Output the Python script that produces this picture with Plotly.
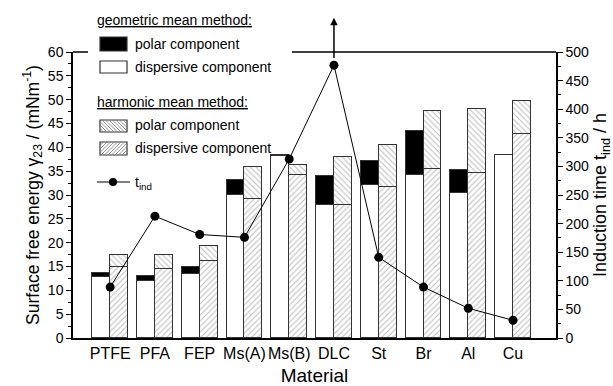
import plotly.graph_objects as go

materials = ["PTFE", "PFA", "FEP", "Ms(A)", "Ms(B)", "DLC", "St", "Br", "Al", "Cu"]
geo_disp = [12.9, 12.0, 13.5, 30.1, 38.1, 27.9, 32.2, 34.2, 30.5, 38.3]
geo_polar = [0.7, 1.1, 1.4, 3.0, 0.2, 6.1, 4.9, 9.2, 4.7, 0.15]
harm_disp = [15.0, 14.4, 16.1, 29.2, 34.2, 27.9, 31.7, 35.4, 34.6, 42.8]
harm_polar = [2.5, 3.1, 3.3, 6.7, 2.1, 10.0, 8.8, 12.2, 13.5, 6.9]
t_ind = [89, 213, 181, 176, 313, 477, 141, 89, 52, 31]

FONT = "Liberation Sans, Arial, sans-serif"
W, H = 613, 386
L, R, T, B = 73, 57, 52, 48
PW, PH = W - L - R, H - T - B

def px(x):
    return (x - L) / PW

def py(y):
    return (H - B - y) / PH

idx = list(range(len(materials)))
xg = [i - 0.2 for i in idx]
xh = [i + 0.2 for i in idx]
outline = dict(color="#333333", width=1.2)

fig = go.Figure()
fig.add_trace(go.Bar(x=xg, y=geo_disp, width=0.4, marker=dict(color="white", line=outline), showlegend=False))
fig.add_trace(go.Bar(x=xg, y=geo_polar, width=0.4, marker=dict(color="black", line=outline), showlegend=False))
fig.add_trace(go.Bar(x=xh, y=harm_disp, width=0.4,
                     marker=dict(color="white", line=outline,
                                 pattern=dict(shape="/", fgcolor="#777777", bgcolor="white", size=4, solidity=0.25)),
                     showlegend=False))
fig.add_trace(go.Bar(x=xh, y=harm_polar, width=0.4,
                     marker=dict(color="white", line=outline,
                                 pattern=dict(shape="\\", fgcolor="#777777", bgcolor="white", size=4, solidity=0.25)),
                     showlegend=False))
fig.add_trace(go.Scatter(x=idx, y=t_ind, yaxis="y2", mode="lines+markers",
                         line=dict(color="black", width=1), marker=dict(color="black", size=9),
                         showlegend=False, cliponaxis=False))

fig.update_layout(
    width=W, height=H, margin=dict(l=L, r=R, t=T, b=B),
    paper_bgcolor="white", plot_bgcolor="white",
    barmode="stack", bargap=0,
    font=dict(family=FONT, size=14, color="black"),
    xaxis=dict(range=[-0.83, 9.96], tickmode="array", tickvals=idx, ticktext=materials,
               tickangle=0, automargin=False,
               showgrid=False, zeroline=False, showline=True, linecolor="black", linewidth=1.5,
               ticks="", tickfont=dict(size=16),
               title=dict(text="Material", font=dict(size=19), standoff=8)),
    yaxis=dict(range=[0, 60], tickvals=list(range(0, 61, 5)), showgrid=False, zeroline=False,
               automargin=False,
               showline=True, linecolor="black", linewidth=1.5, ticks="outside", ticklen=5,
               tickwidth=1, tickcolor="black", tickfont=dict(size=14),
               minor=dict(ticks="outside", ticklen=3, dtick=2.5, tickcolor="black"),
               title=dict(text="Surface free energy γ<sub>23</sub> / (mNm<sup>-1</sup>)",
                          font=dict(size=17.5), standoff=4)),
    yaxis2=dict(range=[0, 500], overlaying="y", side="right", tickvals=list(range(0, 501, 50)),
                automargin=False,
                showgrid=False, zeroline=False, showline=True, linecolor="black", linewidth=1.5,
                ticks="outside", ticklen=5, tickwidth=1, tickcolor="black", tickfont=dict(size=14),
                minor=dict(ticks="outside", ticklen=3, dtick=25, tickcolor="black"),
                title=dict(text="Induction time t<sub>ind</sub> / h", font=dict(size=18), standoff=6)),
)

shapes = []
# top frame (partially hidden by legend)
shapes.append(dict(type="line", xref="paper", yref="paper", x0=0, x1=px(88), y0=1, y1=1,
                   line=dict(color="black", width=1.5)))
shapes.append(dict(type="line", xref="paper", yref="paper", x0=px(292), x1=1, y0=1, y1=1,
                   line=dict(color="black", width=1.5)))

def box(x0, y0, x1, y1, fill):
    shapes.append(dict(type="rect", xref="paper", yref="paper", x0=px(x0), x1=px(x1), y0=py(y1), y1=py(y0),
                       fillcolor=fill, line=dict(color="#333333", width=1.2), layer="above"))

def hatch(x0, y0, x1, y1, direction, step=3.5):
    w, h = x1 - x0, y1 - y0
    c = -h
    while c < w + h:
        pts = []
        for t in [i / 200 for i in range(201)]:
            xx = x0 + c + t * h
            yy = (y1 - t * h) if direction == "/" else (y0 + t * h)
            if x0 <= xx <= x1 and y0 <= yy <= y1:
                pts.append((xx, yy))
        if len(pts) >= 2:
            a, b = pts[0], pts[-1]
            shapes.append(dict(type="line", xref="paper", yref="paper", x0=px(a[0]), y0=py(a[1]),
                               x1=px(b[0]), y1=py(b[1]), line=dict(color="#777777", width=0.8), layer="above"))
        c += step

box(100, 37, 127, 51, "black")
box(100, 61, 127, 73, "white")
box(100, 120, 127, 132, "white")
hatch(100, 120, 127, 132, "\\")
box(100, 142, 127, 155, "white")
hatch(100, 142, 127, 155, "/")
shapes.append(dict(type="line", xref="paper", yref="paper", x0=px(97), x1=px(130), y0=py(182), y1=py(182),
                   line=dict(color="black", width=1)))
shapes.append(dict(type="circle", xref="paper", yref="paper", x0=px(109), x1=px(117), y0=py(186), y1=py(178),
                   fillcolor="black", line=dict(color="black", width=0)))
fig.update_layout(shapes=shapes)

def label(x, y, text, size=14):
    fig.add_annotation(xref="paper", yref="paper", x=px(x), y=py(y), text=text, showarrow=False,
                       xanchor="left", yanchor="middle", font=dict(size=size, family=FONT, color="black"))

label(95, 20, "<u>geometric mean method:</u>")
label(133, 44, "polar component")
label(133, 67, "dispersive component")
label(95, 102, "<u>harmonic mean method:</u>")
label(133, 125, "polar component")
label(133, 148, "dispersive component")
label(133, 183, "t<sub>ind</sub>")

# arrow above DLC point
fig.add_annotation(x=5, y=560, xref="x", yref="y2", ax=5, ay=t_ind[5] + 10, axref="x", ayref="y2",
                   showarrow=True, arrowhead=2, arrowsize=1, arrowwidth=1.5, arrowcolor="black", text="")

fig.write_html("out.html")
